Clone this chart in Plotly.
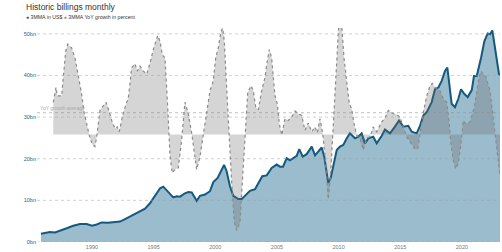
import plotly.graph_objects as go

# --- data (decimal years) ---
bill_years = [1985.86, 1986.59, 1987.0, 1987.4, 1987.95, 1988.48, 1989.03, 1989.57, 1990.0, 1990.38,
              1990.79, 1991.3, 1991.87, 1992.27, 1992.68, 1993.08, 1993.49, 1993.89, 1994.3, 1994.7,
              1995.11, 1995.52, 1995.78, 1996.19, 1996.59, 1996.87, 1997.14, 1997.54, 1997.81, 1998.09,
              1998.49, 1998.76, 1999.16, 1999.57, 1999.84, 2000.19, 2000.52, 2000.71, 2000.92, 2001.19,
              2001.46, 2001.87, 2002.14, 2002.41, 2002.81, 2003.22, 2003.49, 2003.81, 2004.17, 2004.57,
              2004.98, 2005.25, 2005.49, 2005.79, 2006.06, 2006.33, 2006.6, 2006.81, 2007.09, 2007.41,
              2007.82, 2008.09, 2008.35, 2008.63, 2008.84, 2009.03, 2009.16, 2009.36, 2009.57, 2009.85,
              2010.11, 2010.38, 2010.66, 2010.92, 2011.33, 2011.6, 2011.87, 2012.14, 2012.41, 2012.81,
              2013.09, 2013.5, 2013.76, 2014.17, 2014.57, 2014.9, 2015.25, 2015.65, 2015.93, 2016.33,
              2016.6, 2016.87, 2017.15, 2017.55, 2017.82, 2018.09, 2018.36, 2018.63, 2018.82, 2018.95,
              2019.17, 2019.44, 2019.71, 2019.93, 2020.19, 2020.47, 2020.8, 2020.98, 2021.2, 2021.55,
              2021.82, 2022.09, 2022.28, 2022.47, 2022.74, 2023.01, 2023.09]
billings_bn = [2.0, 2.4, 2.3, 2.8, 3.3, 3.9, 4.3, 4.3, 3.9, 4.2,
               4.7, 4.6, 4.7, 4.9, 5.5, 6.1, 6.9, 7.3, 8.0, 9.3,
               11.0, 12.9, 13.3, 12.1, 10.7, 11.0, 10.9, 11.7, 12.0, 11.9,
               9.9, 11.1, 11.4, 12.2, 14.4, 15.4, 17.4, 18.5, 17.0, 13.4,
               11.1, 10.3, 10.3, 11.1, 12.3, 12.7, 14.0, 15.8, 16.0, 17.8,
               18.6, 18.1, 18.1, 20.1, 19.6, 20.1, 20.7, 22.3, 20.5, 21.1,
               22.9, 20.8, 21.6, 22.7, 20.5, 16.6, 14.2, 15.4, 18.2, 22.1,
               22.9, 23.3, 24.9, 26.1, 24.9, 25.3, 26.1, 23.7, 24.9, 25.3,
               23.7, 25.5, 27.0, 26.1, 27.7, 29.2, 27.7, 27.9, 26.5, 26.1,
               27.9, 30.4, 31.2, 33.6, 36.7, 37.1, 38.7, 41.1, 41.9, 39.1,
               33.2, 32.4, 34.4, 36.7, 35.6, 34.8, 36.5, 39.9, 39.9, 44.2,
               48.2, 50.1, 49.9, 50.8, 45.8, 40.3, 40.1]

growth_years = [1986.86, 1987.08, 1987.19, 1987.54, 1987.67, 1987.87, 1988.03, 1988.35, 1988.62, 1988.89,
                1989.16, 1989.35, 1989.57, 1989.84, 1990.06, 1990.24, 1990.38, 1990.65, 1990.92, 1991.14,
                1991.32, 1991.6, 1991.87, 1992.05, 1992.21, 1992.49, 1992.76, 1992.94, 1993.22, 1993.49,
                1993.67, 1993.89, 1994.16, 1994.44, 1994.7, 1994.97, 1995.33, 1995.52, 1995.7, 1995.92,
                1996.14, 1996.33, 1996.51, 1996.73, 1997.0, 1997.27, 1997.54, 1997.81, 1998.09, 1998.3,
                1998.49, 1998.76, 1999.03, 1999.3, 1999.57, 1999.84, 2000.03, 2000.24, 2000.46, 2000.6,
                2000.73, 2000.92, 2001.11, 2001.33, 2001.54, 2001.74, 2002.0, 2002.19, 2002.41, 2002.63,
                2002.9, 2003.08, 2003.28, 2003.49, 2003.76, 2004.03, 2004.17, 2004.38, 2004.57, 2004.7,
                2004.84, 2005.03, 2005.19, 2005.39, 2005.65, 2005.92, 2006.2, 2006.46, 2006.73, 2007.01,
                2007.27, 2007.54, 2007.82, 2008.09, 2008.27, 2008.49, 2008.71, 2008.9, 2009.03, 2009.16,
                2009.36, 2009.57, 2009.79, 2009.98, 2010.11, 2010.25, 2010.44, 2010.71, 2010.87, 2011.06,
                2011.25, 2011.47, 2011.74, 2012.0, 2012.28, 2012.55, 2012.81, 2013.09, 2013.5, 2013.76,
                2014.03, 2014.25, 2014.44, 2014.71, 2014.98, 2015.25, 2015.52, 2015.79, 2016.14, 2016.42,
                2016.6, 2016.87, 2017.15, 2017.41, 2017.6, 2017.82, 2018.22, 2018.49, 2018.77, 2018.95,
                2019.11, 2019.3, 2019.5, 2019.71, 2019.93, 2020.11, 2020.31, 2020.66, 2021.01, 2021.2,
                2021.39, 2021.55, 2021.74, 2021.93, 2022.09, 2022.28, 2022.47, 2022.68, 2022.9, 2023.09]
growth_pct = [15.4, 22.5, 18.5, 18.5, 27.2, 39.8, 43.2, 41.4, 36.6, 28.8,
              19.3, 10.7, 5.2, -1.9, -5.0, -5.8, -1.1, 11.5, 13.8, 15.4,
              12.3, 6.7, 2.8, 3.6, 1.3, 9.1, 14.6, 17.0, 31.9, 33.8,
              30.3, 32.7, 30.3, 28.8, 34.0, 40.5, 47.3, 44.5, 38.2, 36.6,
              13.1, -10.5, -18.4, -16.8, -16.0, -2.7, 15.4, 9.9, 0.5, -9.0,
              -16.8, -10.5, 0.5, 9.9, 20.9, 25.6, 36.6, 41.4, 49.2, 50.8,
              44.5, 22.5, 0.5, -23.1, -42.0, -45.9, -42.0, -23.1, 0.5, 20.1,
              23.3, 20.9, 13.1, 11.8, 20.9, 27.2, 33.5, 40.6, 36.6, 28.8,
              18.5, 14.6, 5.2, -0.3, 7.5, 6.7, 8.3, 11.2, 9.9, 9.1,
              2.0, 5.5, 1.3, 3.6, 0.8, 7.5, 0.5, -10.5, -23.1, -31.0,
              -18.4, 5.2, 28.8, 49.2, 56.0, 52.0, 36.6, 24.1, 14.6, 12.3,
              5.2, -0.3, -1.9, -7.4, -1.9, -1.1, 3.6, 1.3, 6.0, 7.9,
              11.5, 10.7, 9.9, 9.6, 8.3, 3.6, -1.1, -3.4, -6.6, -7.1,
              0.5, 10.7, 18.5, 23.3, 24.4, 22.5, 20.9, 17.0, 15.4, 6.7,
              -4.2, -12.1, -16.5, -13.7, -4.2, 6.7, 5.2, 6.0, 13.1, 20.9,
              27.2, 30.3, 28.8, 28.0, 24.9, 20.9, 11.5, 0.5, -10.5, -20.0]

growth_average = 10.4
y_ticks = [0, 10, 20, 30, 40, 50]
x_ticks = [1990, 1995, 2000, 2005, 2010, 2015, 2020]

BLUE_LINE = "#135a7e"
BLUE_FILL = "#9bbccc"
GRAY_LINE = "#8a8a8a"
FONT = "Liberation Sans, Arial, sans-serif"

fig = go.Figure()
fig.add_trace(go.Scatter(x=bill_years, y=billings_bn, mode="lines", line=dict(width=0, color=BLUE_FILL),
                         fill="tozeroy", fillcolor=BLUE_FILL, hoverinfo="skip", showlegend=False))
fig.add_trace(go.Scatter(x=growth_years, y=growth_pct, yaxis="y2", mode="lines",
                         line=dict(width=1.2, color=GRAY_LINE, dash="dot"),
                         fill="tozeroy", fillcolor="rgba(105,105,105,0.28)", showlegend=False))
fig.add_trace(go.Scatter(x=bill_years, y=billings_bn, mode="lines",
                         line=dict(width=2, color=BLUE_LINE), showlegend=False))

shapes = []
for v in y_ticks:
    shapes.append(dict(type="line", xref="paper", x0=0, x1=1, yref="y", y0=v, y1=v, layer="above",
                       line=dict(color="rgba(150,160,165,0.6)", width=0.8, dash="dot")))
shapes.append(dict(type="line", xref="paper", x0=0, x1=1, yref="y2", y0=growth_average, y1=growth_average,
                   layer="above", line=dict(color="rgba(140,140,140,0.7)", width=0.8, dash="dot")))

fig.update_layout(
    width=502, height=252,
    margin=dict(l=37, r=2, t=28, b=7),
    paper_bgcolor="white", plot_bgcolor="white",
    font=dict(family=FONT, size=6, color="#777"),
    shapes=shapes,
    xaxis=dict(range=[1985.54, 2023.09], tickvals=x_ticks, ticktext=[str(t) for t in x_ticks],
               showgrid=False, zeroline=False, showline=False, ticks="",
               tickfont=dict(size=5.5, color="#777")),
    yaxis=dict(range=[0, 51.4], tickvals=y_ticks, ticktext=[f"{v}bn" for v in y_ticks],
               showgrid=False, zeroline=False, showline=False, ticks="",
               tickfont=dict(size=5.5, color="#2b6584")),
    yaxis2=dict(range=[-51.4, 50.9], overlaying="y", side="right", visible=False),
    annotations=[
        dict(text="Historic billings monthly", xref="paper", yref="paper", x=-0.028, y=1.0, yshift=21,
             xanchor="left", yanchor="middle", showarrow=False, font=dict(size=8.5, color="#333")),
        dict(text="<span style='color:#135a7e'>●</span> 3MMA in US$ <span style='color:#8a8a8a'>●</span> 3MMA YoY growth in percent",
             xref="paper", yref="paper", x=-0.028, y=1.0, yshift=11, xanchor="left", yanchor="middle",
             showarrow=False, font=dict(size=5.2, color="#333")),
        dict(text="YoY growth average", xref="paper", yref="y2", x=0.002, y=growth_average, yshift=5,
             xanchor="left", yanchor="middle", showarrow=False, font=dict(size=5, color="#aaa")),
    ],
)

fig.write_html("out.html", config={"displayModeBar": False},
               post_script="document.body.style.margin='0px';document.body.style.overflow='hidden';")
